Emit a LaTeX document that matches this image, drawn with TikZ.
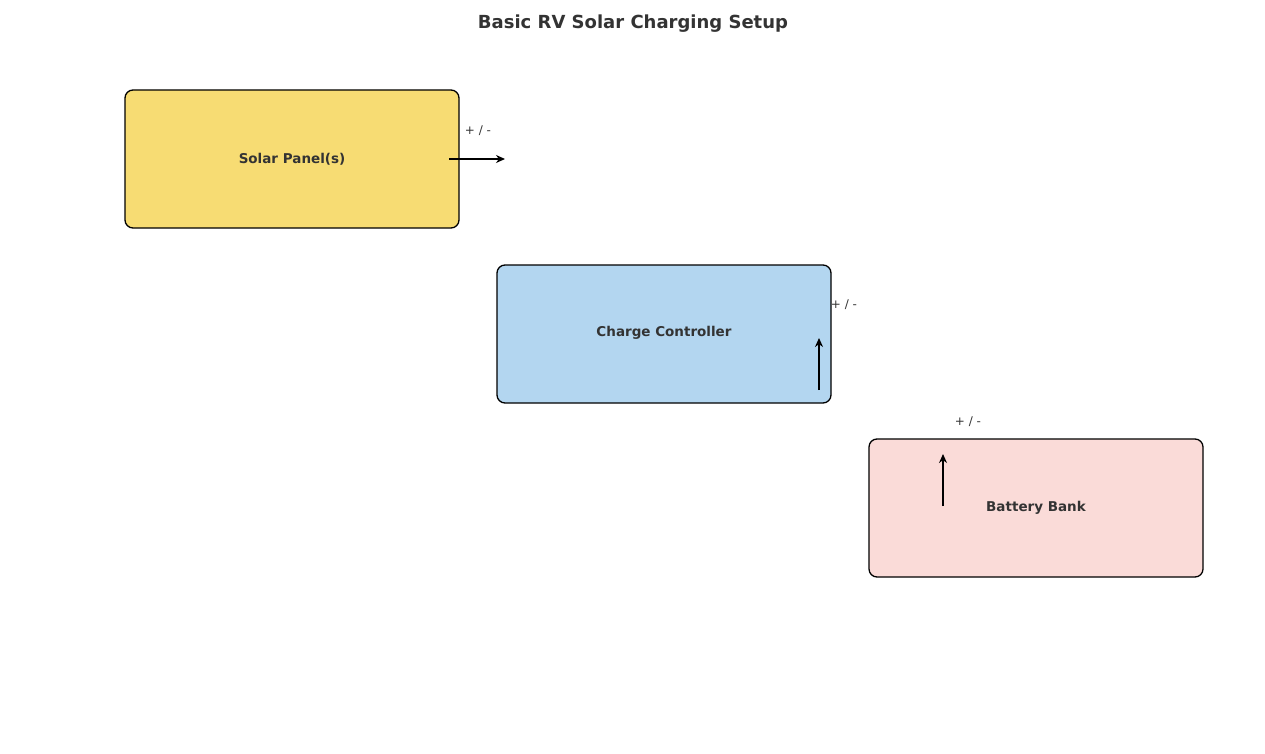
\documentclass[tikz,border=0pt]{standalone}
\usepackage{fontspec}
\setmainfont{DejaVu Sans}
\usetikzlibrary{arrows.meta}
\definecolor{txt}{HTML}{333333}
\definecolor{solar}{HTML}{F7DC73}
\definecolor{ctrl}{HTML}{B3D6F0}
\definecolor{batt}{HTML}{FADBD8}
\begin{document}
\begin{tikzpicture}[x=1pt,y=-1pt,
  box/.style={draw=black,line width=1.3pt,rounded corners=8pt},
  lbl/.style={font=\fontsize{13.5}{16}\selectfont\bfseries,text=txt},
  pm/.style={font=\fontsize{12}{14}\selectfont,text=txt},
  conn/.style={line width=2.5pt,-{Stealth[length=9pt,width=8pt]}}]
\useasboundingbox (0,0) rectangle (1265,754);
\node[font=\fontsize{18}{22}\selectfont\bfseries,text=txt] (title) at (633,24) {Basic RV Solar Charging Setup};
\draw[box,fill=solar] (125,90) rectangle (459,228);
\node[lbl] (solar) at (292,159) {Solar Panel(s)};
\draw[box,fill=ctrl] (497,265) rectangle (831,403);
\node[lbl] (ctrl) at (664,333) {Charge Controller};
\draw[box,fill=batt] (869,439) rectangle (1203,577);
\node[lbl] (batt) at (1036,508) {Battery Bank};
\coordinate (a1) at (449,159); \coordinate (a2) at (505,159);
\coordinate (b1) at (819,390); \coordinate (b2) at (819,338);
\coordinate (c1) at (943,506); \coordinate (c2) at (943,454);
\draw[conn] (a1) -- (a2);
\draw[conn] (b1) -- (b2);
\draw[conn] (c1) -- (c2);
\node[pm] (p1) at (478,131) {+ / -};
\node[pm] (p2) at (844,305) {+ / -};
\node[pm] (p3) at (968,422) {+ / -};
\end{tikzpicture}
\end{document}
